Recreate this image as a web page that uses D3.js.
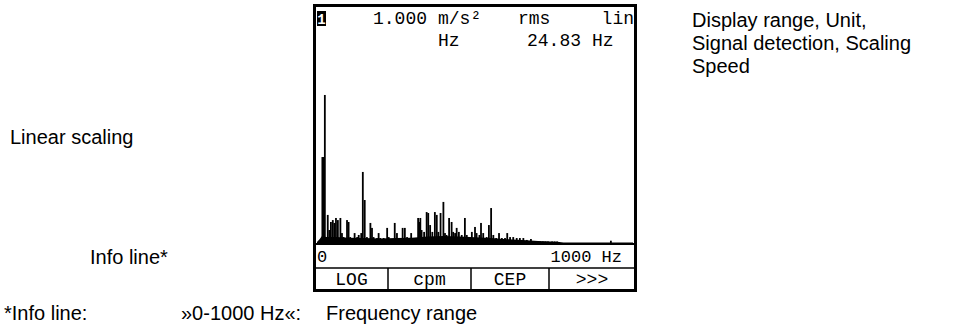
<!DOCTYPE html>
<html>
<head>
<meta charset="utf-8">
<script src="https://cdn.jsdelivr.net/npm/d3@7"></script>
<style>
  body { margin: 0; background: #fff; }
</style>
</head>
<body>
<div class="chart"></div>
<script>
const width = 959;
const height = 334;

// spectrum lines: frequency (Hz) and rms amplitude (m/s²)
const lineFreqs = [17, 20, 22.5, 24.83, 34, 39, 44, 50, 55, 60, 66, 74, 79, 84, 95, 100, 105, 119, 127, 132,
  140, 145, 151, 158, 169, 174, 179, 190, 195, 200, 211, 222, 227, 235, 246, 253, 261, 271, 278, 285,
  298, 306, 320, 324, 327, 331, 339, 347, 352, 358, 365, 373, 379, 384, 391, 400, 405, 410, 418, 426,
  431, 437, 442, 449, 458, 468, 474, 482, 490, 500, 505, 514, 519, 526, 537, 544, 551, 558, 567, 576,
  585, 595, 602, 611, 621, 632, 642, 653, 664, 677, 690, 698, 706, 715, 723, 731, 744, 752, 760, 930];
const lineAmps = [0.45, 0.45, 0.45, 0.775, 0.147, 0.068, 0.110, 0.120, 0.105, 0.131, 0.120, 0.131, 0.052, 0.031, 0.120, 0.110, 0.031, 0.052, 0.031, 0.042,
  0.052, 0.372, 0.225, 0.031, 0.105, 0.079, 0.031, 0.026, 0.052, 0.026, 0.026, 0.079, 0.031, 0.016, 0.105, 0.052, 0.026, 0.079, 0.079, 0.031,
  0.052, 0.026, 0.131, 0.110, 0.131, 0.068, 0.058, 0.162, 0.157, 0.094, 0.058, 0.162, 0.147, 0.058, 0.157, 0.215, 0.052, 0.042, 0.131, 0.110,
  0.058, 0.052, 0.079, 0.058, 0.042, 0.131, 0.042, 0.031, 0.058, 0.084, 0.052, 0.042, 0.105, 0.052, 0.031, 0.094, 0.183, 0.042, 0.026, 0.052,
  0.026, 0.026, 0.052, 0.031, 0.031, 0.026, 0.026, 0.026, 0.016, 0.021, 0.008, 0.008, 0.008, 0.008, 0.008, 0.008, 0.008, 0.008, 0.008, 0.012];

// noise floor under the lines
const floorFreqs = [0, 8, 15, 30, 60, 100, 150, 200, 250, 300, 350, 400, 450, 500, 550, 600, 650, 700, 760, 780, 1000];
const floorAmps = [0.005, 0.02, 0.035, 0.032, 0.032, 0.028, 0.026, 0.024, 0.026, 0.028, 0.034, 0.036, 0.034, 0.03, 0.026, 0.02, 0.016, 0.01, 0.007, 0.002, 0.002];

const freqTicks = [0, 1000];
const buttonLabels = ['LOG', 'cpm', 'CEP', '>>>'];
const buttonEdges = [315, 388, 471, 549, 635];

const sansFont = '"Liberation Sans", Arial, sans-serif';
const lcdFont = '"Liberation Mono", "DejaVu Sans Mono", monospace';

const svg = d3
  .select('.chart')
  .append('svg')
  .attr('width', width)
  .attr('height', height);

const x = d3.scaleLinear().domain([0, 1000]).range([317, 633]);
const y = d3.scaleLinear().domain([0, 1]).range([243, 52]);

// display frame
svg
  .append('rect')
  .attr('x', 314.5)
  .attr('y', 5.5)
  .attr('width', 321)
  .attr('height', 285)
  .attr('fill', 'none')
  .attr('stroke', '#000')
  .attr('stroke-width', 3);

// channel badge
svg
  .append('rect')
  .attr('x', 317)
  .attr('y', 11)
  .attr('width', 9)
  .attr('height', 15)
  .attr('fill', '#000');
svg
  .append('text')
  .attr('x', 321.5)
  .attr('y', 23.5)
  .attr('text-anchor', 'middle')
  .attr('font-family', lcdFont)
  .attr('font-weight', 'bold')
  .attr('font-size', 14)
  .attr('fill', '#fff')
  .text('1');

// header lines
const header = [
  { t: '1.000', x: 373, y: 24 },
  { t: 'm/s²', x: 438, y: 24 },
  { t: 'rms', x: 518, y: 24 },
  { t: 'lin', x: 634, y: 24, anchor: 'end' },
  { t: 'Hz', x: 438, y: 46 },
  { t: '24.83', x: 527, y: 46 },
  { t: 'Hz', x: 592, y: 46 }
];
svg
  .selectAll('.hdr')
  .data(header)
  .enter()
  .append('text')
  .attr('class', 'hdr')
  .attr('x', d => d.x)
  .attr('y', d => d.y)
  .attr('text-anchor', d => d.anchor || 'start')
  .attr('font-family', lcdFont)
  .attr('font-size', 18)
  .text(d => d.t);

// noise floor
const area = d3
  .area()
  .x((d, i) => x(floorFreqs[i]))
  .y0(y(0))
  .y1(d => y(d));
svg
  .append('path')
  .datum(floorAmps)
  .attr('d', area)
  .attr('fill', '#000');

// spectral lines
svg
  .selectAll('.line')
  .data(lineAmps)
  .enter()
  .append('rect')
  .attr('class', 'line')
  .attr('x', (d, i) => x(lineFreqs[i]) - 0.9)
  .attr('width', 1.8)
  .attr('y', d => y(d))
  .attr('height', d => y(0) - y(d))
  .attr('fill', '#000');

// axis line
svg
  .append('line')
  .attr('x1', 315)
  .attr('x2', 635)
  .attr('y1', 244)
  .attr('y2', 244)
  .attr('stroke', '#000')
  .attr('stroke-width', 2);

// info line
svg
  .selectAll('.tick')
  .data(freqTicks)
  .enter()
  .append('text')
  .attr('class', 'tick')
  .attr('x', d => (d === 0 ? x(d) : 622))
  .attr('y', 262)
  .attr('text-anchor', d => (d === 0 ? 'start' : 'end'))
  .attr('font-family', lcdFont)
  .attr('font-size', 17)
  .text(d => (d === 0 ? '0' : d + ' Hz'));

// soft keys
svg
  .append('line')
  .attr('x1', 315)
  .attr('x2', 635)
  .attr('y1', 268)
  .attr('y2', 268)
  .attr('stroke', '#000')
  .attr('stroke-width', 1.5);
svg
  .selectAll('.sep')
  .data(buttonEdges.slice(1, -1))
  .enter()
  .append('line')
  .attr('class', 'sep')
  .attr('x1', d => d)
  .attr('x2', d => d)
  .attr('y1', 268)
  .attr('y2', 290)
  .attr('stroke', '#000')
  .attr('stroke-width', 1.5);
svg
  .selectAll('.btn')
  .data(buttonLabels)
  .enter()
  .append('text')
  .attr('class', 'btn')
  .attr('x', (d, i) => (buttonEdges[i] + buttonEdges[i + 1]) / 2)
  .attr('y', 285)
  .attr('text-anchor', 'middle')
  .attr('font-family', lcdFont)
  .attr('font-size', 18)
  .text(d => d);

// annotations
const notes = [
  { t: 'Display range, Unit,', x: 692, y: 27 },
  { t: 'Signal detection, Scaling', x: 692, y: 50 },
  { t: 'Speed', x: 692, y: 73 },
  { t: 'Linear scaling', x: 10, y: 144 },
  { t: 'Info line*', x: 90, y: 264 },
  { t: '*Info line:', x: 4, y: 320 },
  { t: '»0-1000 Hz«:', x: 181, y: 320 },
  { t: 'Frequency range', x: 326, y: 320 }
];
svg
  .selectAll('.note')
  .data(notes)
  .enter()
  .append('text')
  .attr('class', 'note')
  .attr('x', d => d.x)
  .attr('y', d => d.y)
  .attr('font-family', sansFont)
  .attr('font-size', 20)
  .attr('fill', '#000')
  .text(d => d.t);
</script>
</body>
</html>
